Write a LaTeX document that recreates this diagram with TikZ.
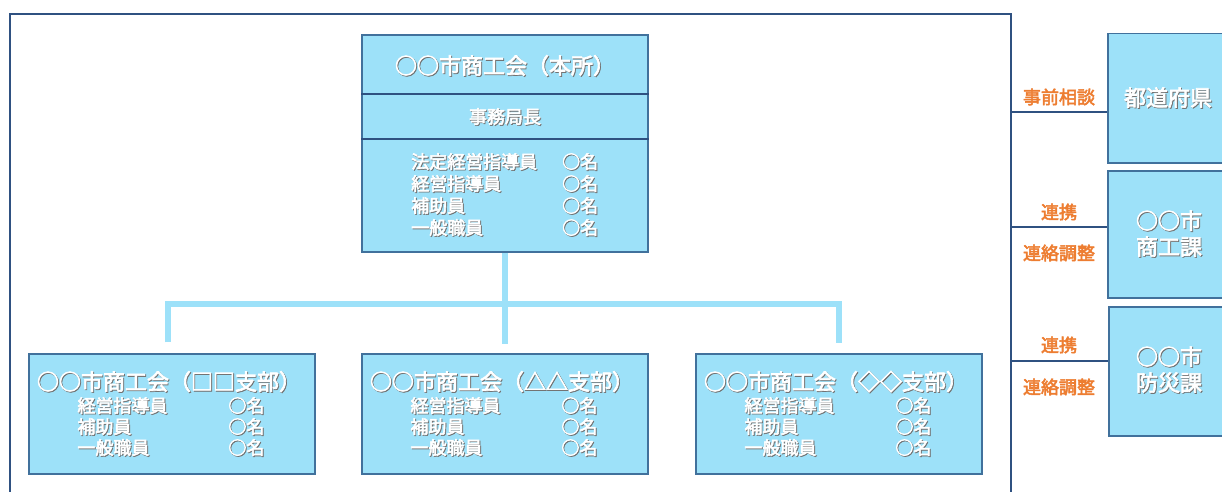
\documentclass[tikz,border=0pt]{standalone}
\usepackage{fontspec}
\setmainfont{Noto Sans CJK JP}[FakeBold=3]
\definecolor{boxfill}{HTML}{9DE1F9}
\definecolor{boxline}{HTML}{41719C}
\definecolor{frm}{HTML}{2F5181}
\definecolor{lbl}{HTML}{ED7D31}
\definecolor{shd}{gray}{0.45}
\newcommand\st[1]{\makebox[0pt][l]{\kern0.9pt\raisebox{-0.9pt}{\textcolor{shd}{#1}}}#1}
\begin{document}
\begin{tikzpicture}[x=1pt,y=-1pt,
  box/.style={draw=boxline, line width=1.5pt, fill=boxfill, rectangle, inner sep=0pt},
  wt/.style={text=white, inner sep=0pt, font=\fontsize{#1}{26}\selectfont},
  lab/.style={text=lbl, inner sep=0pt, font=\fontsize{18}{22}\selectfont},
  conn/.style={draw=boxfill, line width=6pt},
  frame/.style={draw=frm, line width=1.8pt},
  thin/.style={draw=frm, line width=1.6pt}]
\useasboundingbox (0,0) rectangle (1222,492);
\clip (0,0) rectangle (1222,492);
% outer frame
\draw[frame] (10,500) -- (10,14) -- (1011,14) -- (1011,500);
% main box
\node[box, minimum width=286pt, minimum height=217pt] (main) at (505,143.5) {};
\draw[thin] (main.west |- 0,94) -- (main.east |- 0,94);
\draw[thin] (main.west |- 0,139) -- (main.east |- 0,139);
\node[wt=22] (mt) at (505,66) {\st{○○市商工会（本所）}};
\node[wt=18] (mh) at (505,117) {\st{事務局長}};
\foreach \t [count=\i] in {法定経営指導員,経営指導員,補助員,一般職員}{
  \node[wt=18, anchor=west] (ml\i) at (411,140+22*\i) {\st{\t}};
  \node[wt=18, anchor=west] (mn\i) at (562,140+22*\i) {\st{○名}};
}
% branch boxes
\node[box, minimum width=286pt, minimum height=120pt] (b1) at (172,414) {};
\node[box, minimum width=286pt, minimum height=120pt] (b2) at (505,414) {};
\node[box, minimum width=286pt, minimum height=120pt] (b3) at (839,414) {};
\foreach \b/\s in {b1/□□,b2/△△,b3/◇◇}{
  \node[wt=22] (\b t) at ([xshift=-3pt,yshift=32pt]\b.center) {\st{○○市商工会（\s 支部）}};
  \foreach \t [count=\i] in {経営指導員,補助員,一般職員}{
    \node[wt=18, anchor=west] (\b l\i) at ([xshift=49pt,yshift={-(385+21*\i-414)*1pt}]\b.west) {\st{\t}};
    \node[wt=18, anchor=west] (\b n\i) at ([xshift=200pt,yshift={-(385+21*\i-414)*1pt}]\b.west) {\st{○名}};
  }
}
% connectors
\coordinate (hb) at (505,304);
\draw[conn] (main.south) -- ([yshift=9pt]b2.north);
\draw[conn] ([xshift=-4pt,yshift=11pt]b1.north) -- ([xshift=-4pt]b1.north |- hb) -- (b3.north |- hb) -- ([yshift=10pt]b3.north);
% right boxes
\node[box, anchor=north west, minimum width=125pt, minimum height=129pt] (pref) at (1107,33) {};
\node[box, anchor=north west, minimum width=125pt, minimum height=127pt] (shoko) at (1107,170) {};
\node[box, anchor=north west, minimum width=125pt, minimum height=129pt] (bosai) at (1108,306) {};
\node[wt=22] (preft) at (1168,98) {\st{都道府県}};
\node[wt=22, align=center] (shokot) at (1169,234) {\st{○○市}\\\st{商工課}};
\node[wt=22, align=center] (bosait) at (1169,370) {\st{○○市}\\\st{防災課}};
% links from frame
\coordinate (f1) at (1011,112);
\coordinate (f2) at (1011,227);
\coordinate (f3) at (1011,361);
\draw[thin] (f1) -- (f1 -| pref.west);
\draw[thin] (f2) -- (f2 -| shoko.west);
\draw[thin] (f3) -- (f3 -| bosai.west);
\node[lab] (l1) at (1059,97) {事前相談};
\node[lab] (l2a) at (1059,212) {連携};
\node[lab] (l2b) at (1059,253) {連絡調整};
\node[lab] (l3a) at (1059,345) {連携};
\node[lab] (l3b) at (1059,387) {連絡調整};
\end{tikzpicture}
\end{document}
